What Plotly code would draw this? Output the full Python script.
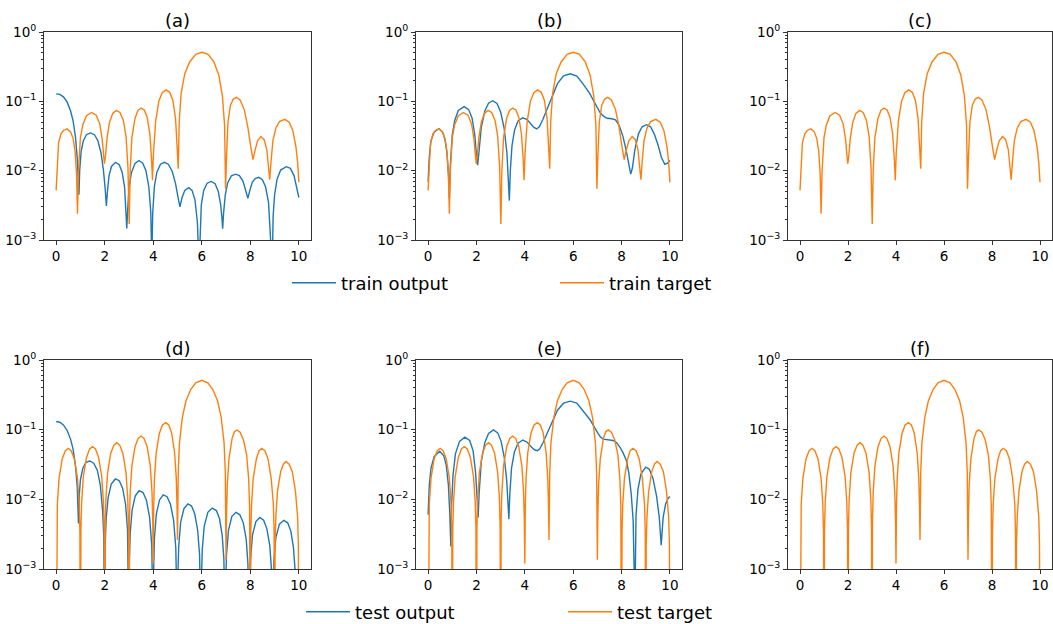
import plotly.graph_objects as go

# ---------------- data ----------------
x_train_target = [0.0, 0.05, 0.1, 0.2, 0.3, 0.45, 0.6, 0.7, 0.78, 0.84, 0.88,
                  0.92, 1.0, 1.1, 1.25, 1.46, 1.65, 1.8, 1.9, 1.96, 1.99,
                  2.03, 2.1, 2.2, 2.33, 2.48, 2.63, 2.77, 2.88, 2.96, 3.01,
                  3.05, 3.12, 3.25, 3.37, 3.5, 3.63, 3.75, 3.86, 3.93, 3.97,
                  4.01, 4.1, 4.23, 4.37, 4.53, 4.68, 4.81, 4.92, 4.99, 5.03,
                  5.07, 5.15, 5.3, 5.5, 5.75, 6.0, 6.25, 6.5, 6.7, 6.85, 6.94, 6.98,
                  7.02, 7.08, 7.18, 7.3, 7.43, 7.58, 7.75, 7.9, 8.02, 8.11,
                  8.2, 8.3, 8.44, 8.57, 8.68, 8.76, 8.8,
                  8.85, 8.93, 9.05, 9.2, 9.42, 9.6, 9.75, 9.88, 9.95, 10.0]
y_train_target = [0.0052, 0.016, 0.025, 0.034, 0.038, 0.040, 0.036, 0.029, 0.019, 0.009, 0.0024,
                  0.010, 0.030, 0.046, 0.062, 0.069, 0.063, 0.047, 0.028, 0.016, 0.0126,
                  0.016, 0.030, 0.050, 0.067, 0.074, 0.069, 0.053, 0.031, 0.011, 0.0017,
                  0.010, 0.030, 0.057, 0.074, 0.080, 0.075, 0.059, 0.034, 0.015, 0.0073,
                  0.018, 0.052, 0.100, 0.133, 0.146, 0.135, 0.103, 0.056, 0.020, 0.0107,
                  0.05, 0.13, 0.25, 0.37, 0.475, 0.51, 0.48, 0.37, 0.24, 0.12, 0.045, 0.0055,
                  0.016, 0.050, 0.088, 0.108, 0.114, 0.105, 0.076, 0.042, 0.022, 0.0144,
                  0.020, 0.027, 0.031, 0.028, 0.020, 0.011, 0.0074,
                  0.013, 0.027, 0.041, 0.051, 0.055, 0.050, 0.038, 0.022, 0.013, 0.0068]

x_train_output_a = [0.0, 0.15, 0.3, 0.45, 0.6, 0.7, 0.8, 0.87, 0.94,
                    0.97, 1.03, 1.12, 1.25, 1.41, 1.58, 1.72, 1.85, 1.95, 2.02, 2.07,
                    2.12, 2.18, 2.28, 2.45, 2.6, 2.72, 2.82, 2.88, 2.91,
                    2.95, 3.0, 3.1, 3.25, 3.41, 3.57, 3.7, 3.82, 3.9, 3.94,
                    3.98, 4.05, 4.15, 4.3, 4.46, 4.62, 4.78, 4.92, 5.03, 5.1,
                    5.18, 5.3, 5.46, 5.6, 5.72, 5.82, 5.89,
                    5.93, 5.98, 6.08, 6.22, 6.39, 6.55, 6.68, 6.78, 6.83, 6.86,
                    6.9, 6.97, 7.07, 7.22, 7.39, 7.55, 7.7, 7.82, 7.9,
                    7.98, 8.08, 8.2, 8.34, 8.5, 8.63, 8.75, 8.84, 8.9,
                    8.94, 9.0, 9.1, 9.25, 9.48, 9.65, 9.8, 9.92, 10.0]
y_train_output_a = [0.128, 0.126, 0.116, 0.098, 0.072, 0.052, 0.030, 0.015, 0.0045,
                    0.010, 0.019, 0.027, 0.033, 0.035, 0.033, 0.027, 0.018, 0.010, 0.0055, 0.0031,
                    0.0053, 0.0085, 0.0115, 0.0132, 0.0122, 0.0095, 0.0058, 0.0028, 0.00147,
                    0.0028, 0.0055, 0.0093, 0.0127, 0.014, 0.0128, 0.0100, 0.0058, 0.0025, 0.0005,
                    0.0025, 0.0060, 0.0095, 0.0124, 0.0132, 0.0124, 0.0098, 0.0065, 0.0040, 0.0030,
                    0.0040, 0.0052, 0.0057, 0.0052, 0.0038, 0.0018, 0.0004,
                    0.0016, 0.0032, 0.0052, 0.0066, 0.0070, 0.0065, 0.0050, 0.0032, 0.0021, 0.00145,
                    0.0025, 0.0045, 0.0067, 0.0084, 0.0089, 0.0085, 0.0070, 0.0052, 0.0040,
                    0.0052, 0.0068, 0.0077, 0.0080, 0.0074, 0.0058, 0.0035, 0.0014, 0.0004,
                    0.0022, 0.0045, 0.0075, 0.0102, 0.0114, 0.0108, 0.0085, 0.0058, 0.0041]

x_train_output_b = [0.0, 0.05, 0.12, 0.25, 0.45, 0.6, 0.7, 0.78, 0.84, 0.88,
                    0.92, 1.0, 1.1, 1.25, 1.49, 1.68, 1.82, 1.93, 2.0, 2.05,
                    2.1, 2.2, 2.35, 2.5, 2.67, 2.85, 3.0, 3.15, 3.26, 3.32, 3.36,
                    3.4, 3.47, 3.58, 3.72, 3.91, 4.08, 4.25, 4.38, 4.49,
                    4.6, 4.75, 4.9, 5.05, 5.16, 5.35, 5.6, 5.88, 6.15, 6.4, 6.68, 6.9,
                    7.1, 7.25, 7.4, 7.6, 7.75, 7.9, 8.06, 8.2, 8.3, 8.38,
                    8.45, 8.55, 8.7, 8.85, 9.03, 9.2, 9.35, 9.5, 9.65, 9.79, 9.9, 10.0]
y_train_output_b = [0.0069, 0.016, 0.027, 0.036, 0.0405, 0.036, 0.028, 0.018, 0.009, 0.004,
                    0.012, 0.033, 0.053, 0.074, 0.084, 0.076, 0.057, 0.033, 0.017, 0.012,
                    0.018, 0.042, 0.073, 0.094, 0.102, 0.093, 0.070, 0.040, 0.018, 0.008, 0.0037,
                    0.010, 0.023, 0.039, 0.052, 0.058, 0.055, 0.047, 0.042, 0.040,
                    0.043, 0.055, 0.075, 0.10, 0.13, 0.18, 0.233, 0.25, 0.232, 0.18, 0.13, 0.092,
                    0.070, 0.061, 0.057, 0.056, 0.054, 0.045, 0.031, 0.019, 0.012, 0.0089,
                    0.011, 0.020, 0.034, 0.043, 0.046, 0.043, 0.034, 0.024, 0.0155, 0.0123, 0.0128, 0.014]

x_test_target = [0.0, 0.02, 0.05, 0.12, 0.25, 0.38, 0.5, 0.62, 0.75, 0.88, 0.95, 0.98, 1.0,
                 1.02, 1.05, 1.12, 1.25, 1.38, 1.5, 1.62, 1.75, 1.88, 1.95, 1.98, 2.0,
                 2.02, 2.05, 2.12, 2.25, 2.38, 2.5, 2.62, 2.75, 2.88, 2.95, 2.98, 3.0,
                 3.02, 3.05, 3.12, 3.25, 3.38, 3.5, 3.62, 3.75, 3.88, 3.95, 3.98, 4.0,
                 4.02, 4.05, 4.12, 4.25, 4.38, 4.52, 4.64, 4.76, 4.88, 4.95, 4.98, 5.0,
                 5.03, 5.08, 5.2, 5.35, 5.55, 5.75, 6.0, 6.25, 6.45, 6.65, 6.8, 6.92, 6.97, 7.0,
                 7.02, 7.05, 7.12, 7.25, 7.35, 7.45, 7.58, 7.72, 7.85, 7.93, 7.97, 8.0,
                 8.02, 8.05, 8.12, 8.25, 8.36, 8.47, 8.6, 8.73, 8.86, 8.95, 8.98, 9.0,
                 9.02, 9.05, 9.12, 9.25, 9.36, 9.47, 9.6, 9.73, 9.86, 9.95, 9.98, 10.0]
y_test_target = [1e-5, 0.0034, 0.0085, 0.020, 0.038, 0.050, 0.054, 0.050, 0.038, 0.020, 0.0085, 0.0034, 1e-5,
                 0.0036, 0.009, 0.021, 0.040, 0.053, 0.057, 0.053, 0.040, 0.021, 0.009, 0.0036, 1e-5,
                 0.004, 0.010, 0.024, 0.046, 0.060, 0.065, 0.060, 0.046, 0.024, 0.010, 0.004, 1e-5,
                 0.005, 0.0125, 0.030, 0.057, 0.075, 0.081, 0.075, 0.057, 0.030, 0.0125, 0.005, 0.0012,
                 0.008, 0.020, 0.046, 0.088, 0.117, 0.126, 0.117, 0.090, 0.047, 0.020, 0.008, 0.0026,
                 0.024, 0.064, 0.15, 0.26, 0.38, 0.47, 0.51, 0.47, 0.38, 0.26, 0.15, 0.064, 0.024, 0.00136,
                 0.006, 0.016, 0.038, 0.075, 0.094, 0.099, 0.092, 0.071, 0.043, 0.020, 0.008, 1e-5,
                 0.0034, 0.0085, 0.020, 0.038, 0.050, 0.054, 0.050, 0.038, 0.020, 0.0085, 0.0034, 1e-5,
                 0.0022, 0.0055, 0.013, 0.025, 0.032, 0.035, 0.032, 0.025, 0.013, 0.0055, 0.0022, 1e-5]

x_test_output_d = [0.0, 0.15, 0.3, 0.45, 0.6, 0.7, 0.8, 0.87, 0.92,
                   0.95, 1.0, 1.1, 1.23, 1.38, 1.55, 1.7, 1.82, 1.92, 1.96, 1.99,
                   2.02, 2.06, 2.14, 2.27, 2.44, 2.6, 2.74, 2.86, 2.94, 2.97, 3.0,
                   3.02, 3.05, 3.13, 3.26, 3.42, 3.58, 3.72, 3.85, 3.94, 3.97, 4.0,
                   4.02, 4.05, 4.13, 4.26, 4.41, 4.57, 4.71, 4.84, 4.93, 4.97, 5.0,
                   5.02, 5.05, 5.13, 5.27, 5.43, 5.58, 5.71, 5.83, 5.91, 5.94, 5.97,
                   5.99, 6.02, 6.1, 6.25, 6.43, 6.6, 6.73, 6.84, 6.91, 6.94, 6.97,
                   6.99, 7.02, 7.1, 7.24, 7.41, 7.57, 7.71, 7.83, 7.9, 7.93, 7.96,
                   7.98, 8.01, 8.09, 8.23, 8.39, 8.55, 8.68, 8.8, 8.87, 8.92,
                   8.94, 8.97, 9.05, 9.2, 9.38, 9.54, 9.67, 9.78, 9.85, 9.9, 10.0]
y_test_output_d = [0.131, 0.128, 0.117, 0.098, 0.072, 0.052, 0.030, 0.015, 0.0045,
                   0.011, 0.019, 0.028, 0.034, 0.0355, 0.033, 0.026, 0.016, 0.0065, 0.0030, 0.0002,
                   0.0022, 0.0052, 0.0105, 0.0165, 0.0196, 0.0185, 0.0145, 0.0085, 0.0037, 0.0018, 0.0001,
                   0.0013, 0.0032, 0.0070, 0.0112, 0.0133, 0.0125, 0.0097, 0.0055, 0.0022, 0.0011, 0.0001,
                   0.0011, 0.0028, 0.0062, 0.0098, 0.0116, 0.0109, 0.0085, 0.0050, 0.0020, 0.0010, 0.0001,
                   0.0009, 0.0021, 0.0047, 0.0074, 0.0086, 0.0080, 0.0062, 0.0036, 0.0016, 0.0009, 0.0001,
                   0.0008, 0.0019, 0.0041, 0.0065, 0.0075, 0.0069, 0.0053, 0.0031, 0.0014, 0.0008, 0.0001,
                   0.0007, 0.0016, 0.0036, 0.0057, 0.0065, 0.0060, 0.0046, 0.0027, 0.0012, 0.0007, 0.0001,
                   0.0006, 0.0014, 0.0031, 0.0048, 0.0055, 0.0050, 0.0038, 0.0022, 0.0010, 0.0001,
                   0.0006, 0.0013, 0.0028, 0.0044, 0.0050, 0.0046, 0.0035, 0.0020, 0.0009, 0.0001, 0.0005]

x_test_output_e = [0.0, 0.05, 0.12, 0.25, 0.48, 0.65, 0.75, 0.84, 0.9, 0.94,
                   0.97, 1.03, 1.13, 1.3, 1.52, 1.72, 1.86, 1.96, 2.03, 2.07,
                   2.11, 2.2, 2.35, 2.5, 2.7, 2.88, 3.02, 3.15, 3.25, 3.31, 3.34,
                   3.38, 3.45, 3.57, 3.72, 3.92, 4.1, 4.28, 4.42, 4.52,
                   4.62, 4.75, 4.9, 5.05, 5.17, 5.35, 5.6, 5.88, 6.15, 6.4, 6.69, 6.97,
                   7.12, 7.24, 7.45, 7.65, 7.8, 7.95, 8.07, 8.2, 8.3, 8.4, 8.48, 8.55,
                   8.6, 8.68, 8.8, 9.0, 9.15, 9.3, 9.45, 9.56, 9.64,
                   9.72, 9.82, 9.92, 10.0]
y_test_output_e = [0.0060, 0.016, 0.028, 0.041, 0.049, 0.042, 0.031, 0.016, 0.006, 0.0021,
                   0.008, 0.022, 0.045, 0.068, 0.078, 0.070, 0.050, 0.025, 0.010, 0.0055,
                   0.012, 0.035, 0.066, 0.088, 0.099, 0.090, 0.068, 0.040, 0.019, 0.009, 0.0052,
                   0.012, 0.028, 0.048, 0.064, 0.071, 0.066, 0.056, 0.051, 0.050,
                   0.053, 0.065, 0.085, 0.11, 0.14, 0.19, 0.24, 0.257, 0.24, 0.19, 0.14, 0.095,
                   0.079, 0.073, 0.071, 0.070, 0.065, 0.055, 0.046, 0.036, 0.024, 0.012, 0.005, 0.0003,
                   0.006, 0.014, 0.023, 0.029, 0.027, 0.020, 0.011, 0.0055, 0.0022,
                   0.0055, 0.0085, 0.0103, 0.011]

panel_titles = ["(a)", "(b)", "(c)", "(d)", "(e)", "(f)"]
x_tick_vals = [0, 2, 4, 6, 8, 10]
y_tick_vals = [1e-3, 1e-2, 1e-1, 1e0]
y_tick_text = ["10<sup>\u22123</sup>", "10<sup>\u22122</sup>", "10<sup>\u22121</sup>", "10<sup>0</sup>"]
legend_labels = ["train output", "train target", "test output", "test target"]

# ---------------- styling / layout ----------------
W, H = 1053, 624
BLUE = "#1f77b4"
ORANGE = "#ff7f0e"
FONT = "DejaVu Sans"

col_px = [(44, 311), (416, 682), (788, 1052)]
row_px = [(32, 240), (360, 569)]

fig = go.Figure()

def add_line(idx, xs, ys, color, name, show, legend):
    suffix = "" if idx == 1 else str(idx)
    fig.add_trace(go.Scatter(
        x=xs, y=ys, mode="lines", name=name,
        line=dict(color=color, width=1.4),
        xaxis="x" + suffix, yaxis="y" + suffix,
        showlegend=show, legend=legend, hoverinfo="skip"))

# row 1 (train)
add_line(1, x_train_output_a, y_train_output_a, BLUE, legend_labels[0], True, "legend")
add_line(1, x_train_target, y_train_target, ORANGE, legend_labels[1], True, "legend")
add_line(2, x_train_output_b, y_train_output_b, BLUE, legend_labels[0], False, "legend")
add_line(2, x_train_target, y_train_target, ORANGE, legend_labels[1], False, "legend")
add_line(3, x_train_target, y_train_target, ORANGE, legend_labels[1], False, "legend")
# row 2 (test)
add_line(4, x_test_output_d, y_test_output_d, BLUE, legend_labels[2], True, "legend2")
add_line(4, x_test_target, y_test_target, ORANGE, legend_labels[3], True, "legend2")
add_line(5, x_test_output_e, y_test_output_e, BLUE, legend_labels[2], False, "legend2")
add_line(5, x_test_target, y_test_target, ORANGE, legend_labels[3], False, "legend2")
add_line(6, x_test_target, y_test_target, ORANGE, legend_labels[3], False, "legend2")

minor_vals = [k * 10.0 ** e for e in (-3, -2, -1) for k in range(2, 10)]

layout = dict(
    width=W, height=H,
    margin=dict(l=0, r=0, t=0, b=0, autoexpand=False),
    paper_bgcolor="white", plot_bgcolor="white",
    font=dict(family=FONT, size=13, color="black"),
    annotations=[],
)

axis_common = dict(showline=True, mirror=True, linecolor="#333", linewidth=1,
                   ticks="outside", ticklen=4, tickwidth=1, tickcolor="#333",
                   showgrid=False, zeroline=False, automargin=False,
                   tickfont=dict(family=FONT, size=13.5, color="black"))

for i in range(6):
    r, c = divmod(i, 3)
    suffix = "" if i == 0 else str(i + 1)
    x0, x1 = col_px[c]
    y0, y1 = row_px[r]
    layout["xaxis" + suffix] = dict(
        domain=[x0 / W, x1 / W], anchor="y" + suffix,
        range=[-0.5, 10.5], tickmode="array", tickvals=x_tick_vals,
        **axis_common)
    layout["yaxis" + suffix] = dict(
        domain=[1 - y1 / H, 1 - y0 / H], anchor="x" + suffix,
        type="log", range=[-3, 0], tickmode="array",
        tickvals=y_tick_vals, ticktext=y_tick_text,
        minor=dict(tickmode="array", tickvals=minor_vals, ticks="outside",
                   ticklen=2, tickcolor="#333", showgrid=False),
        **axis_common)
    layout["annotations"].append(dict(
        text=panel_titles[i], x=(x0 + x1) / 2 / W, y=1 - (y0 - 12) / H,
        xref="paper", yref="paper", xanchor="center", yanchor="middle",
        showarrow=False, font=dict(family=FONT, size=18, color="black")))

legend_common = dict(orientation="h", xanchor="left", yanchor="middle",
                     entrywidthmode="pixels", itemwidth=44,
                     bgcolor="rgba(0,0,0,0)", font=dict(family=FONT, size=18, color="black"))
layout["legend"] = dict(x=287 / W, y=1 - 283 / H, entrywidth=209, **legend_common)
layout["legend2"] = dict(x=301 / W, y=1 - 612 / H, entrywidth=203, **legend_common)

fig.update_layout(**layout)
fig.write_html("out.html", config={"displayModeBar": False},
               post_script="document.body.style.margin='0px';document.body.style.overflow='hidden';")
